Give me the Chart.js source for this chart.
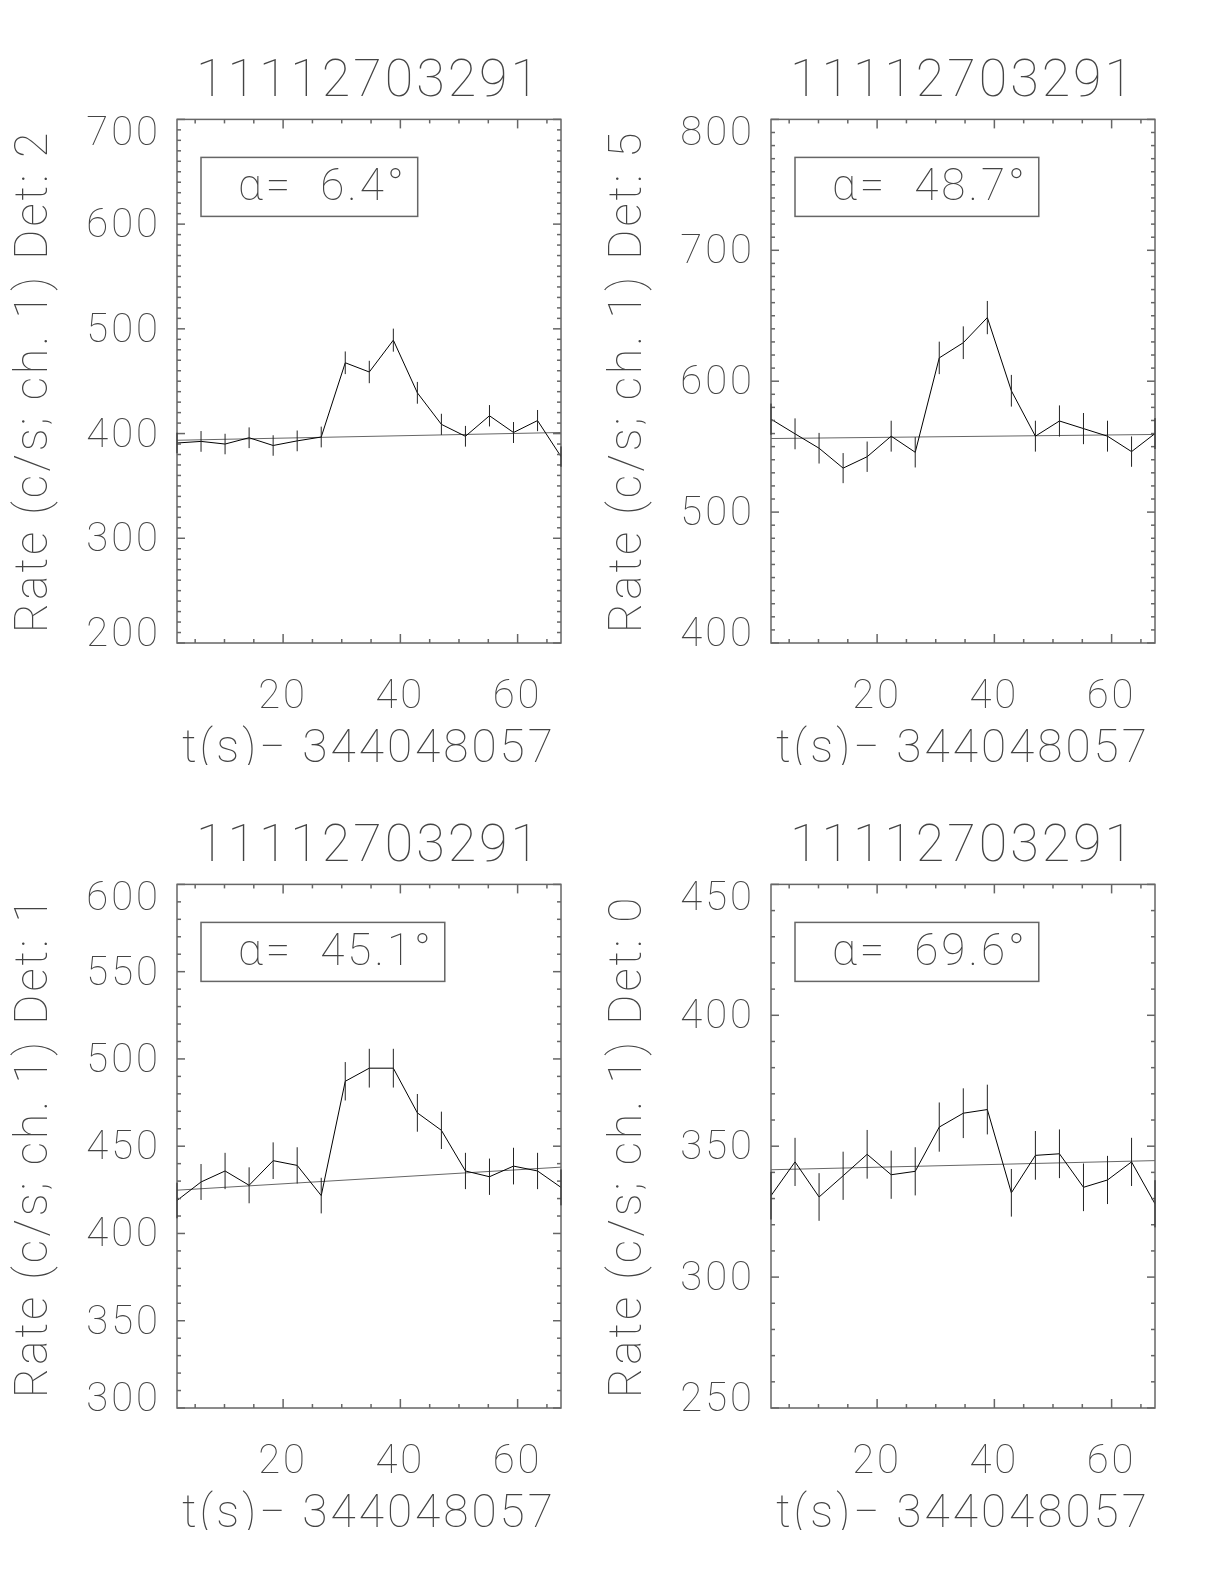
<!DOCTYPE html>
<html>
<head>
<meta charset="utf-8">
<title>11112703291</title>
<script src="https://cdn.jsdelivr.net/npm/chart.js@4.4.1/dist/chart.umd.min.js"></script>
<style>
    body { margin: 0; background: #fff; }
    #page { position: relative; width: 1224px; height: 1584px; background: #fff; }
    #page canvas { position: absolute; }
</style>
</head>
<body>
<div id="page">
    <canvas id="det2" width="594" height="765" style="left:0;top:0"></canvas>
    <canvas id="det5" width="594" height="765" style="left:594px;top:0"></canvas>
    <canvas id="det1" width="594" height="765" style="left:0;top:765px"></canvas>
    <canvas id="det0" width="594" height="765" style="left:594px;top:765px"></canvas>
</div>
<script>
var burstId = '11112703291';
var timeLabel = 't(s)\u2212 344048057';
var times = [1.9, 6.0, 10.1, 14.2, 18.3, 22.4, 26.5, 30.6, 34.7, 38.8, 42.9, 47.0, 51.1, 55.2, 59.3, 63.4, 67.4];
var xTicks = [20, 40, 60];

var detectors = [2, 5, 1, 0];
var angles = ['6.4', '48.7', '45.1', '69.6'];

var rateDet2 = [391, 392.5, 390, 396, 388.6, 393, 396.7, 467.6, 458.8, 489.2, 438.9, 408.8, 397.4, 417, 401, 412.4, 378];
var errDet2 = [9.8, 9.9, 9.8, 9.9, 9.8, 9.9, 9.9, 10.8, 10.7, 11.0, 10.4, 10.1, 9.9, 10.2, 10.0, 10.1, 9.7];
var bkgDet2 = [393.6, 401];
var yTicksDet2 = [200, 300, 400, 500, 600, 700];

var rateDet5 = [571, 559.8, 548.8, 533.6, 542.3, 558, 545.7, 617.8, 629.4, 648.6, 592.7, 558, 569.6, 563.8, 558, 546.2, 560];
var errDet5 = [11.9, 11.8, 11.7, 11.5, 11.6, 11.8, 11.6, 12.4, 12.5, 12.7, 12.1, 11.8, 11.9, 11.9, 11.8, 11.6, 11.8];
var bkgDet5 = [556.2, 559.3];
var yTicksDet5 = [400, 500, 600, 700, 800];

var rateDet1 = [418.9, 429.5, 435.8, 427.6, 441.7, 439, 421.7, 487.2, 494.7, 494.7, 469.1, 459.1, 435.8, 432.5, 438.6, 435.8, 426.4];
var errDet1 = [10.2, 10.3, 10.4, 10.3, 10.5, 10.4, 10.2, 11.0, 11.1, 11.1, 10.8, 10.7, 10.4, 10.4, 10.5, 10.4, 10.3];
var bkgDet1 = [424.8, 438];
var yTicksDet1 = [300, 350, 400, 450, 500, 550, 600];

var rateDet0 = [331.1, 344, 330.6, 338.7, 346.9, 339.1, 340.4, 357.3, 362.6, 364, 332.2, 346.5, 347.1, 334.3, 337.1, 344, 328];
var errDet0 = [9.1, 9.2, 9.1, 9.2, 9.3, 9.2, 9.2, 9.4, 9.5, 9.5, 9.1, 9.3, 9.3, 9.1, 9.2, 9.2, 9.0];
var bkgDet0 = [341, 344.5];
var yTicksDet0 = [250, 300, 350, 400, 450];

var fontFamily = 'Roboto, "Liberation Sans", sans-serif';
var textColor = '#444';
var frameColor = '#666';

// IDL style box: ticks on all four sides, error bars and the angle legend
var idlFrame = {
    id: 'idlFrame',
    beforeDraw: function (chart) {
        chart.ctx.letterSpacing = '3px';

        // end labels sit inside the box like IDL draws them
        var items = chart.scales.y.getLabelItems();
        if (!items.shifted) {
            for (var i = 0; i < items.length; i++) {
                var shift = 3;
                if (i === 0) shift = -7;
                if (i === items.length - 1) shift = 16;
                items[i].options.translation[1] += shift;
            }
            items.shifted = true;
        }
    },
    afterDraw: function (chart, args, opts) {
        var ctx = chart.ctx;
        var area = chart.chartArea;
        var xs = chart.scales.x;
        var ys = chart.scales.y;
        var v, p, len;

        function seg(x1, y1, x2, y2) {
            ctx.beginPath();
            ctx.moveTo(x1, y1);
            ctx.lineTo(x2, y2);
            ctx.stroke();
        }

        ctx.save();
        ctx.strokeStyle = frameColor;
        ctx.lineWidth = 1.5;
        ctx.strokeRect(area.left, area.top, area.right - area.left, area.bottom - area.top);

        for (v = Math.ceil(xs.min / opts.minorX) * opts.minorX; v <= xs.max; v += opts.minorX) {
            p = xs.getPixelForValue(v);
            len = opts.xMajor.indexOf(v) >= 0 ? 9 : 4;
            seg(p, area.bottom, p, area.bottom - len);
            seg(p, area.top, p, area.top + len);
        }
        for (v = ys.min; v <= ys.max; v += opts.minorY) {
            p = ys.getPixelForValue(v);
            len = opts.yMajor.indexOf(v) >= 0 ? 8 : 4;
            seg(area.left, p, area.left + len, p);
            seg(area.right, p, area.right - len, p);
        }

        ctx.strokeStyle = '#222';
        ctx.lineWidth = 1;
        var pts = chart.data.datasets[0].data;
        for (var i = 0; i < pts.length; i++) {
            p = xs.getPixelForValue(pts[i].x);
            seg(p, ys.getPixelForValue(pts[i].y - opts.errors[i]), p, ys.getPixelForValue(pts[i].y + opts.errors[i]));
        }

        ctx.font = '100 44px ' + fontFamily;
        ctx.letterSpacing = '3px';
        var w = ctx.measureText(opts.label).width;
        var bx = area.left + 24;
        var by = area.top + 38;
        ctx.strokeStyle = frameColor;
        ctx.lineWidth = 1.5;
        ctx.strokeRect(bx, by, 48 + w, 59);
        ctx.fillStyle = textColor;
        ctx.textBaseline = 'middle';
        ctx.textAlign = 'left';
        ctx.fillText(opts.label, bx + 37, by + 32);
        ctx.restore();
        ctx.letterSpacing = '0px';
    }
};

function points(rate) {
    var out = [];
    for (var i = 0; i < times.length; i++) {
        out.push({x: times[i], y: rate[i]});
    }
    return out;
}

function makePanel(id, det, angle, rate, err, bkg, yTicks) {
    var last = times.length - 1;
    return new Chart(document.getElementById(id), {
        type: 'scatter',
        data: {
            datasets: [
                {
                    label: 'rate',
                    data: points(rate),
                    showLine: true,
                    borderColor: '#000',
                    borderWidth: 1,
                    pointRadius: 0
                },
                {
                    label: 'background',
                    data: [{x: times[0], y: bkg[0]}, {x: times[last], y: bkg[1]}],
                    showLine: true,
                    borderColor: '#666',
                    borderWidth: 1,
                    pointRadius: 0
                }
            ]
        },
        options: {
            responsive: false,
            animation: false,
            layout: {padding: {left: 0, right: 33, top: 0, bottom: 0}},
            plugins: {
                legend: {display: false},
                tooltip: {enabled: false},
                title: {
                    display: true,
                    text: burstId,
                    fullSize: false,
                    color: textColor,
                    font: {family: fontFamily, size: 52, weight: 100},
                    padding: {top: 52, bottom: 5}
                },
                idlFrame: {
                    errors: err,
                    label: '\u03b1=  ' + angle + '\u00b0',
                    minorX: 5,
                    minorY: 10,
                    xMajor: xTicks,
                    yMajor: yTicks
                }
            },
            scales: {
                x: {
                    type: 'linear',
                    min: times[0],
                    max: times[last],
                    afterBuildTicks: function (scale) {
                        scale.ticks = xTicks.map(function (v) { return {value: v}; });
                    },
                    afterFit: function (scale) { scale.height = 122; },
                    grid: {display: false, drawTicks: false},
                    border: {display: false},
                    ticks: {color: textColor, font: {family: fontFamily, size: 40, weight: 100}, padding: 31, maxRotation: 0, autoSkip: false},
                    title: {
                        display: true,
                        text: timeLabel,
                        color: textColor,
                        font: {family: fontFamily, size: 46, weight: 100, lineHeight: 0.6},
                        padding: {top: 0, bottom: 1}
                    }
                },
                y: {
                    type: 'linear',
                    min: yTicks[0],
                    max: yTicks[yTicks.length - 1],
                    afterBuildTicks: function (scale) {
                        scale.ticks = yTicks.map(function (v) { return {value: v}; });
                    },
                    afterFit: function (scale) { scale.width = 177; },
                    grid: {display: false, drawTicks: false},
                    border: {display: false},
                    ticks: {color: textColor, font: {family: fontFamily, size: 40, weight: 100}, padding: 16, autoSkip: false},
                    title: {
                        display: true,
                        text: 'Rate (c/s; ch. 1) Det: ' + det,
                        color: textColor,
                        font: {family: fontFamily, size: 46, weight: 100},
                        padding: {top: 8, bottom: 0}
                    }
                }
            }
        },
        plugins: [idlFrame]
    });
}

makePanel('det2', detectors[0], angles[0], rateDet2, errDet2, bkgDet2, yTicksDet2);
makePanel('det5', detectors[1], angles[1], rateDet5, errDet5, bkgDet5, yTicksDet5);
makePanel('det1', detectors[2], angles[2], rateDet1, errDet1, bkgDet1, yTicksDet1);
makePanel('det0', detectors[3], angles[3], rateDet0, errDet0, bkgDet0, yTicksDet0);
</script>
</body>
</html>
